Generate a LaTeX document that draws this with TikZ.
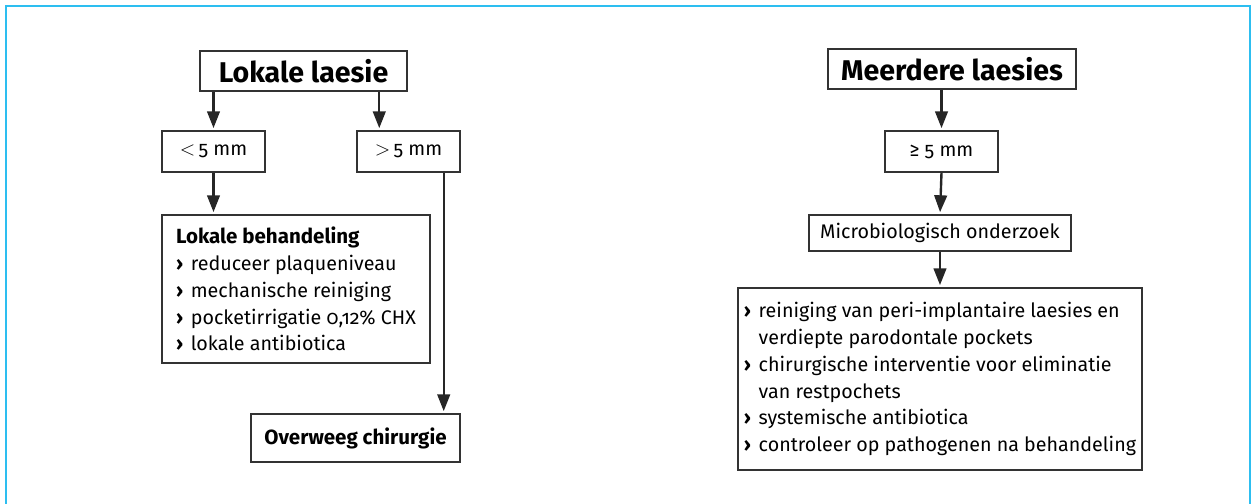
\documentclass[tikz,border=0pt]{standalone}
\usepackage{fontspec}
\setmainfont{Fira Sans}[Numbers=OldStyle]
\usetikzlibrary{arrows.meta,positioning}
\definecolor{kaderblauw}{RGB}{45,190,240}
\newcommand\tekst{\fontsize{14}{19.1}\selectfont}
\newcommand\kopgroot{\fontsize{20.3}{23}\selectfont\bfseries}
\newcommand\kopklein{\fontsize{14.6}{19.1}\selectfont\bfseries}
\newcommand\punt{\makebox[0.75em][l]{\textbf{›}}}
\newcommand\inspring{\hspace*{0.75em}}
\tikzset{
  kader/.style={draw=kaderblauw,line width=1.4pt},
  blok/.style={draw=black!80,line width=1pt,inner sep=0pt,font=\tekst},
  pijl/.style={-{Triangle[length=12pt,width=9pt]},line width=1.7pt,draw=black!85,shorten >=1.5pt}
}
\begin{document}
\begin{tikzpicture}[x=0.025cm,y=-0.025cm]
  \useasboundingbox (0,0) rectangle (1258,504);
  \draw[kader] (6,504) -- (6,6) -- (1250,6) -- (1250,504);

  \node[blok,font=\kopgroot,minimum width=5.175cm,minimum height=1cm] (laesie) at (303.5,71) {Lokale laesie};
  \node[blok,minimum width=2.575cm,minimum height=1.025cm] (klein) at (213.5,151.5) {$<$\,5 mm};
  \node[blok,minimum width=2.575cm,minimum height=1.025cm] (groot) at (408.5,151.5) {$>$\,5 mm};
  \node[blok,align=left,minimum width=6.7cm,minimum height=3.7cm] (lokaal) at (296,289)
    {{\kopklein Lokale behandeling}\\
     \punt reduceer plaqueniveau\\
     \punt mechanische reiniging\\
     \punt pocketirrigatie 0,12\% CHX\\
     \punt lokale antibiotica};
  \node[blok,font=\kopklein,minimum width=5.225cm,minimum height=1.2cm] (chirurgie) at (355.5,438) {Overweeg chirurgie};

  \node[blok,font=\kopgroot,minimum width=6.2cm,minimum height=1cm] (meerdere) at (952,69) {Meerdere laesies};
  \node[blok,minimum width=2.825cm,minimum height=1.025cm] (groot2) at (941.5,151.5) {≥ 5 mm};
  \node[blok,minimum width=6.55cm,minimum height=0.9cm] (micro) at (940,233) {Microbiologisch onderzoek};
  \node[blok,align=left,minimum width=10.1cm,minimum height=4.55cm] (therapie) at (940,379)
    {\punt reiniging van peri-implantaire laesies en\\
     \inspring verdiepte parodontale pockets\\
     \punt chirurgische interventie voor eliminatie\\
     \inspring van restpochets\\
     \punt systemische antibiotica\\
     \punt controleer op pathogenen na behandeling};

  \coordinate (grootin) at ([xshift=5.75mm]groot.north west);
  \coordinate (grootuit) at ([xshift=-4.25mm]groot.south east);
  \begin{scope}[pijl]
    \draw (laesie.south -| klein.north) to (klein.north);
    \draw (laesie.south -| grootin) to (grootin);
    \draw (klein.south) to (klein.south |- lokaal.north);
    \draw (grootuit) to (grootuit |- chirurgie.north);
    \draw (meerdere.south -| groot2.north) to (groot2.north);
    \draw (groot2.south) to (micro.north);
    \draw (micro.south) to (therapie.north);
  \end{scope}
\end{tikzpicture}
\end{document}
